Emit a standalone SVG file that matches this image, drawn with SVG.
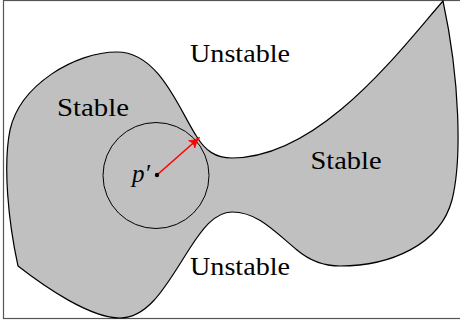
<svg xmlns="http://www.w3.org/2000/svg" width="460" height="325" viewBox="0 0 460 325">
  <style>
    text { font-family: 'Liberation Serif', 'Times New Roman', serif; font-size: 25px; fill: #000; text-anchor: middle; }
    .region { fill: #c0c0c0; stroke: #000; stroke-width: 1.2; stroke-linejoin: miter; }
  </style>
  <defs>
    <marker id="arr" viewBox="0 0 10 10" refX="9" refY="5" markerWidth="11" markerHeight="11" markerUnits="userSpaceOnUse" orient="auto">
      <path d="M0,0.5 Q4,4 10,5 Q4,6 0,9.5 Q3,5 0,0.5 Z" fill="#ff0000" stroke="#ff0000" stroke-width="0.6"/>
    </marker>
  </defs>
  <rect width="460" height="325" fill="#fff"/>
  <rect id="frame" x="3.5" y="0.5" width="480" height="318" fill="none" stroke="#555" stroke-width="1.2"/>
  <g id="stable-region">
    <path class="region" d="M18,266 C45,287 90,318 120,318 C150,318 168,282 190,248 C201,231 214,212 232,212 C258,212 275,232 297,250 C310,261 325,266 340,266 C390,266 440,245 452,200 C462,160 460,80 443,1 C400,50 320,158 232,158 C215,158 205,150 197,137 C180,112 160,52 117,52 C75,52 20,85 10,130 C3,165 8,220 18,266 Z"/>
  </g>
  <g id="ball">
    <circle cx="156" cy="175.5" r="53" fill="none" stroke="#000" stroke-width="1"/>
  </g>
  <g id="connectors">
    <line x1="157" y1="175" x2="199" y2="138" stroke="#ff0000" stroke-width="1.6" marker-end="url(#arr)"/>
  </g>
  <g id="point">
    <circle cx="157" cy="175" r="2.2" fill="#000"/>
    <text x="141" y="182" font-family="Liberation Serif, serif" font-style="italic" font-size="27">p′</text>
  </g>
  <g id="labels">
    <text x="240" y="62" font-family="Liberation Serif, serif" textLength="100" lengthAdjust="spacingAndGlyphs">Unstable</text>
    <text x="93" y="116" font-family="Liberation Serif, serif" textLength="72" lengthAdjust="spacingAndGlyphs">Stable</text>
    <text x="346" y="169" font-family="Liberation Serif, serif" textLength="71" lengthAdjust="spacingAndGlyphs">Stable</text>
    <text x="240" y="275" font-family="Liberation Serif, serif" textLength="100" lengthAdjust="spacingAndGlyphs">Unstable</text>
  </g>
</svg>
